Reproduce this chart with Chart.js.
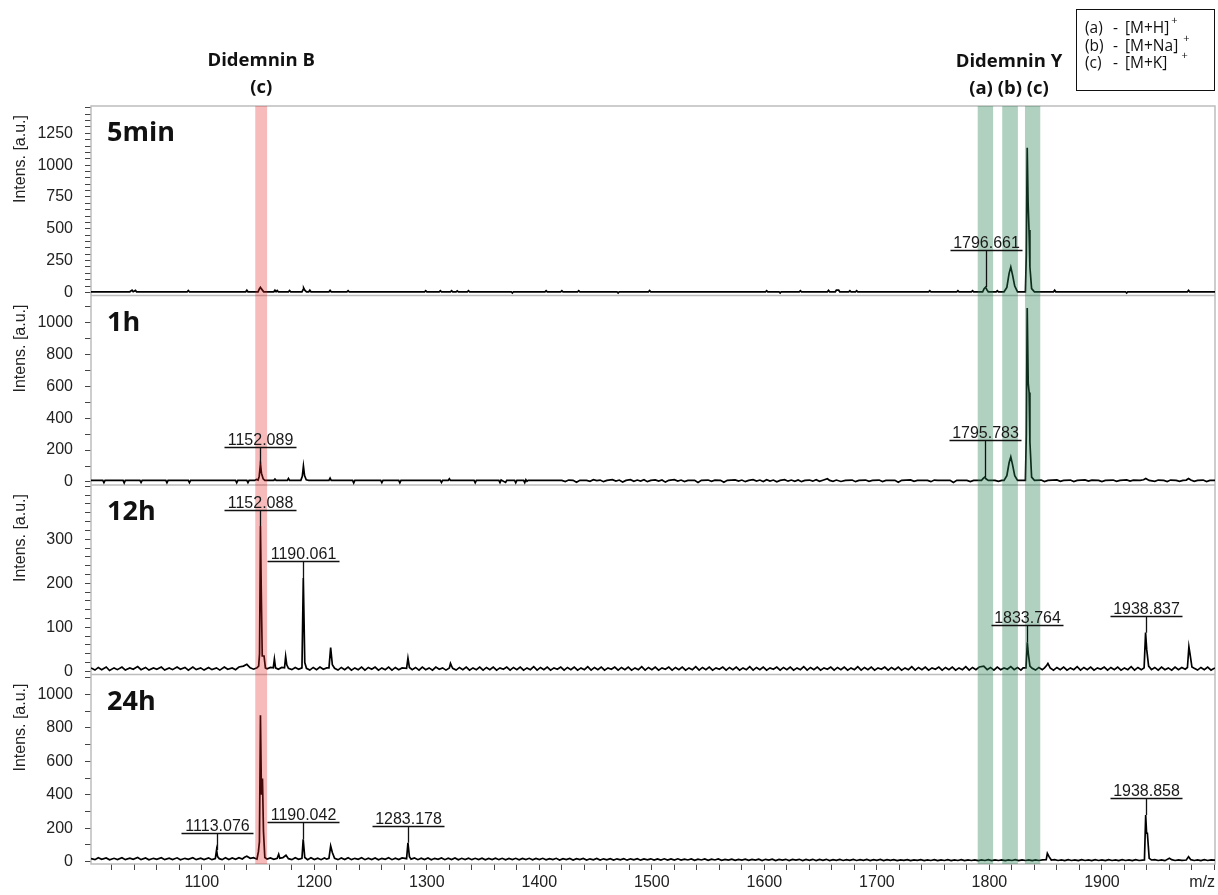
<!DOCTYPE html>
<html>
<head>
<meta charset="utf-8">
<title>Didemnin spectra</title>
<script src="https://cdn.jsdelivr.net/npm/chart.js@4.4.1/dist/chart.umd.min.js"></script>
<style>
  html, body { margin: 0; padding: 0; background: #fff; }
  #wrap { width: 1218px; height: 895px; }
</style>
</head>
<body>
<div id="wrap"><canvas id="spectra" width="1218" height="895"></canvas></div>
<script>
// [m/z, intensity]
const spec5min = [
  [1001.5,5],[1036,5],[1038,18],[1039,6],[1041,16],[1042,5],[1087,5],[1088,15],[1089,5],
  [1139,5],[1140,18],[1141,5],[1150,5],[1151,25],[1152.1,40],[1153,28],[1155,5],
  [1164,5],[1165,18],[1166,6],[1167,15],[1168,5],[1177,5],[1178,15],[1179,5],
  [1189,5],[1190,22],[1190.5,35],[1191.5,18],[1193,5],[1195,5],[1196,18],[1197,5],
  [1213,5],[1214,16],[1215,5],[1229,5],[1230,14],[1231,5],[1298,5],[1299,14],[1300,5],
  [1311,5],[1312,14],[1313,5],[1321,5],[1322,14],[1323,5],[1326,5],[1327,12],[1328,5],
  [1336,5],[1337,14],[1338,5],[1375,5],[1376,-5],[1377,5],[1405,5],[1406,14],[1407,5],
  [1419,5],[1420,14],[1421,5],[1434,5],[1435,14],[1436,5],[1469,5],[1470,-5],[1471,5],
  [1497,5],[1498,15],[1499,5],[1601,5],[1602,14],[1603,5],[1613,5],[1614,-5],[1615,5],
  [1631,5],[1632,14],[1633,5],[1656,5],[1657,16],[1658,5],[1663,5],[1664,18],[1666,18],[1667,5],
  [1675,5],[1676,14],[1677,5],[1681,5],[1682,14],[1683,5],[1746,5],[1747,14],[1748,5],
  [1771,5],[1772,14],[1773,5],[1784,5],[1785,14],[1786,5],
  [1794,5],[1795.3,30],[1796.6,42],[1797.8,20],[1799,5],[1806,5],[1807,14],[1808,5],
  [1813,5],[1815.5,40],[1817.5,150],[1819,200],[1820.5,140],[1822.5,50],[1825,5],
  [1832,5],[1832.8,300],[1833.6,1136],[1834.4,700],[1835.2,490],[1836,200],[1837.5,30],[1840,5],
  [1857,5],[1858,18],[1859,5],[1921,5],[1922,-5],[1923,5],[1976,5],[1977,16],[1978,5],[2000.5,5]
];

const spec1h = [
  [1001.5,10],[1012,10],[1013,-4],[1014,10],[1030,10],[1031,-6],[1032,10],[1045,10],[1046,-3],[1047,10],
  [1068,10],[1069,-5],[1070,10],[1088,10],[1089,-4],[1090,10],[1130,10],[1131,-5],[1132,10],
  [1140,10],[1141,-4],[1142,10],[1147,10],[1148.5,16],[1150,12],[1151,35],[1152.1,115],[1153,55],
  [1154.5,20],[1156,10],[1164,10],[1165,18],[1166,10],[1176,10],[1177,22],[1178,10],
  [1188,10],[1189.3,35],[1190.3,100],[1191.3,40],[1192.8,14],[1195,10],[1213,10],[1214,24],[1215,10],
  [1234,10],[1235,-6],[1236,10],[1259,10],[1260,-4],[1261,10],[1275,10],[1276,-5],[1277,10],
  [1312,10],[1313,-3],[1314,10],[1319,10],[1320,20],[1321,10],[1342,10],[1343,-5],[1344,10],
  [1364,10],[1365,-4],[1366,12],[1370,-3],[1371,10],[1378,10],[1379,-5],[1380,10],
  [1386,10],[1387,-4],[1388,14],[1389,4],[1390,10],
  [1420,10],[1423,3],[1426,12],[1430,10],[1433,-2],[1436,10],[1442,10],[1445,4],[1448,14],[1451,8],
  [1454,12],[1457,2],[1460,10],[1465,14],[1468,6],[1471,12],[1474,0],[1477,10],[1481,14],[1484,4],
  [1487,12],[1490,6],[1493,14],[1496,2],[1499,10],[1503,13],[1506,5],[1509,12],[1512,-1],[1515,10],
  [1520,14],[1523,6],[1526,12],[1529,3],[1532,10],[1538,10],[1541,-3],[1544,10],[1550,12],[1553,4],
  [1556,11],[1561,10],[1564,-2],[1567,10],[1574,13],[1577,5],[1580,12],[1583,2],[1586,10],[1590,14],
  [1593,6],[1596,12],[1599,3],[1602,14],[1605,6],[1608,12],[1611,1],[1614,10],[1618,14],[1621,5],
  [1624,12],[1627,4],[1630,13],[1633,2],[1636,10],[1640,12],[1643,5],[1646,14],[1649,4],[1652,11],
  [1656,20],[1658,10],[1661,4],[1664,12],[1668,3],[1672,10],[1678,12],[1681,2],[1684,10],[1690,12],
  [1693,4],[1696,10],[1702,12],[1705,3],[1708,10],[1716,10],[1719,-2],[1722,10],[1730,13],[1733,4],
  [1736,10],[1745,10],[1748,2],[1751,12],[1754,10],[1765,10],[1768,-3],[1771,10],[1780,10],[1783,3],[1786,10],
  [1793,10],[1794.5,22],[1795.8,30],[1797.2,18],[1799,10],[1805,10],[1808,4],[1811,10],
  [1813,10],[1815.5,40],[1817.5,120],[1819,157],[1820.5,110],[1822.5,40],[1825,10],
  [1832,10],[1832.8,300],[1833.6,1090],[1834.5,620],[1835.3,560],[1836,250],[1837.5,30],[1840,10],
  [1846,12],[1849,3],[1852,10],[1860,13],[1863,4],[1866,10],[1872,12],[1875,3],[1878,10],[1885,13],
  [1888,5],[1891,11],[1897,10],[1900,2],[1903,10],[1910,12],[1913,4],[1916,10],[1922,13],[1925,5],
  [1928,11],[1934,10],[1937,14],[1939,22],[1940.5,16],[1942,10],[1947,4],[1950,12],[1955,10],[1958,3],
  [1961,12],[1966,10],[1969,4],[1972,10],[1975,12],[1977,22],[1979,12],[1982,4],[1985,10],[1990,12],
  [1993,3],[1996,10],[2000.5,10]
];

const spec12h = [
  [1001.5,8],[1005,3],[1008,9],[1011,4],[1015,10],[1018,2],[1022,8],[1025,4],[1029,10],[1032,3],
  [1036,8],[1039,5],[1043,11],[1046,4],[1050,9],[1053,3],[1057,8],[1060,5],[1064,10],[1067,3],
  [1071,8],[1074,4],[1078,10],[1081,5],[1085,9],[1088,3],[1092,10],[1095,4],[1099,8],[1102,3],
  [1106,9],[1109,4],[1113,8],[1116,3],[1120,10],[1123,5],[1127,8],[1130,4],[1133,10],
  [1137,12],[1140,16],[1143,8],[1146,5],[1149,8],[1150.5,12],[1151.3,40],[1152.1,330],[1152.9,170],
  [1153.7,35],[1155.3,35],[1156.5,8],[1158,6],[1161,9],[1163.5,8],[1164.5,28],[1165.5,8],[1168,5],
  [1171,9],[1173.5,8],[1174.5,34],[1175.5,15],[1177,7],[1180,4],[1183,9],[1186,5],[1189,8],
  [1190.2,212],[1191.5,20],[1193,7],[1196,3],[1199,9],[1202,4],[1205,10],[1208,5],[1211,8],[1213,8],[1214.5,54],
  [1216,15],[1218,7],[1221,3],[1224,9],[1227,4],[1230,10],[1233,3],[1236,8],[1239,4],[1242,10],
  [1245,3],[1248,9],[1251,5],[1254,10],[1257,3],[1260,8],[1263,4],[1266,10],[1269,3],[1272,9],
  [1275,4],[1278,8],[1282,7],[1283.2,30],[1284.5,9],[1287,4],[1290,9],[1293,3],[1296,10],[1299,4],
  [1302,8],[1305,3],[1308,10],[1311,5],[1314,8],[1317,3],
  [1320,8],[1321,18],[1322,12],[1323,7],[1326,3],[1329,9],[1332,4],[1335,10],[1338,3],[1341,8],
  [1344,4],[1347,10],[1350,3],[1353,9],[1356,4],[1359,10],[1362,3],[1365,8],[1368,5],[1371,10],
  [1374,3],[1377,9],[1380,4],[1383,10],[1386,3],[1389,8],[1392,4],[1395,11],[1398,3],[1401,9],
  [1404,4],[1407,10],[1410,3],[1413,8],[1416,5],[1419,10],[1422,3],[1425,9],[1428,4],[1431,10],
  [1434,3],[1437,8],[1440,4],[1443,11],[1446,3],[1449,9],[1452,4],[1455,10],[1458,3],[1461,8],
  [1464,5],[1467,10],[1470,3],[1473,9],[1476,4],[1479,10],[1482,3],[1485,8],[1488,4],[1491,11],
  [1494,3],[1497,9],[1500,4],[1503,10],[1506,3],[1509,8],[1512,5],[1515,10],[1518,3],[1521,9],
  [1524,4],[1527,10],[1530,3],[1533,8],[1536,4],[1539,11],[1542,3],[1545,9],[1548,4],[1551,10],
  [1554,3],[1557,8],[1560,5],[1563,10],[1566,3],[1569,9],[1572,4],[1575,10],[1578,3],[1581,8],
  [1584,4],[1587,11],[1590,3],[1593,9],[1596,4],[1599,10],[1602,3],[1605,8],[1608,5],[1611,10],
  [1614,3],[1617,9],[1620,4],[1623,10],[1626,3],[1629,8],[1632,4],[1635,11],[1638,3],[1641,9],
  [1644,4],[1647,10],[1650,3],[1653,8],[1656,5],[1659,10],[1662,3],[1665,9],[1668,4],[1671,10],
  [1674,3],[1677,8],[1680,4],[1683,11],[1686,3],[1689,9],[1692,4],[1695,10],[1698,3],[1701,8],
  [1704,5],[1707,10],[1710,3],[1713,9],[1716,4],[1719,10],[1722,3],[1725,8],[1728,4],[1731,11],
  [1734,3],[1737,9],[1740,4],[1743,10],[1746,3],[1749,8],[1752,5],[1755,10],[1758,3],[1761,9],
  [1764,4],[1767,10],[1770,3],[1773,8],[1776,4],[1779,11],[1782,3],[1785,9],[1788,4],[1791,10],
  [1795,12],[1798,4],[1801,9],[1804,3],[1807,10],[1810,4],[1813,8],[1816,5],[1819,11],[1822,4],
  [1825,9],[1828,3],[1830,8],[1832.5,8],[1833.7,66],[1834.6,40],[1836,12],[1838,7],[1841,3],[1844,9],
  [1847,4],[1849,8],[1851,14],[1852,18],[1854,8],[1857,3],[1860,9],[1863,4],[1866,10],[1869,3],
  [1872,8],[1875,4],[1878,11],[1881,3],[1884,9],[1887,4],[1890,10],[1893,3],[1896,8],[1899,5],
  [1902,10],[1905,3],[1908,9],[1911,4],[1914,10],[1917,3],[1920,8],[1923,4],[1926,11],[1929,3],
  [1932,9],[1935,4],[1937.5,8],[1938.8,88],[1939.8,50],[1941.5,12],[1944,4],[1947,9],[1950,3],
  [1953,10],[1956,4],[1959,8],[1962,3],[1965,10],[1968,4],[1971,9],[1974,5],[1976,9],[1977.3,56],
  [1978.3,40],[1980,10],[1982,7],[1985,3],[1988,9],[1991,4],[1994,10],[1997,3],[2000.5,8]
];

const spec24h = [
  [1001.5,18],[1005,12],[1008,24],[1011,14],[1015,22],[1018,11],[1022,20],[1025,13],[1029,24],[1032,12],
  [1036,21],[1039,14],[1043,25],[1046,12],[1050,22],[1053,11],[1057,20],[1060,14],[1064,24],[1067,12],
  [1071,21],[1074,13],[1078,23],[1081,11],[1085,20],[1088,14],[1092,24],[1095,12],[1099,21],[1102,13],
  [1106,22],[1109,12],[1112,18],[1113.1,70],[1114,30],[1115.5,18],[1118,12],
  [1121,24],[1124,13],[1127,22],[1130,14],[1133,24],[1136,16],[1138,26],[1140,32],[1143,20],[1146,24],
  [1149,15],[1150.3,60],[1151.2,120],[1152.1,876],[1153,400],[1153.9,498],[1154.8,180],[1156,25],
  [1158,15],[1161,22],[1164,14],[1167,20],[1168.3,44],[1169.3,20],[1172,24],[1174.8,38],[1177,18],
  [1180,12],[1183,24],[1186,14],[1189,20],[1190.1,134],[1191.5,25],[1194,12],[1197,23],[1200,13],
  [1203,21],[1206,12],[1209,22],[1211,15],[1213,20],[1214.5,94],[1216,55],[1218,20],[1221,12],
  [1224,22],[1227,13],[1230,24],[1233,12],[1236,20],[1239,14],[1242,23],[1245,12],[1248,21],
  [1251,13],[1254,22],[1257,11],[1260,20],[1263,14],[1266,23],[1269,12],[1272,21],[1275,13],
  [1278,22],[1282,18],[1283.2,113],[1284.5,30],[1286,15],[1289,22],[1292,12],[1295,21],[1298,13],
  [1301,22],[1304,11],[1307,20],[1310,14],[1313,22],[1316,12],[1319,21],[1322,13],[1325,22],
  [1328,11],[1331,20],[1334,13],[1337,21],[1340,12],[1343,20],[1346,13],[1349,21],[1352,11],
  [1355,19],[1358,13],[1361,21],[1364,12],[1367,20],[1370,11],[1373,19],[1376,13],[1379,20],
  [1382,11],[1385,19],[1388,12],[1391,20],[1394,11],[1397,19],[1400,13],[1403,20],[1406,11],
  [1409,18],[1412,12],[1415,20],[1418,10],[1421,18],[1424,12],[1427,19],[1430,10],[1433,18],
  [1436,12],[1439,19],[1442,10],[1445,17],[1448,11],[1451,19],[1454,10],[1457,17],[1460,11],
  [1463,18],[1466,10],[1469,17],[1472,11],[1475,18],[1478,9],[1481,17],[1484,11],[1487,18],
  [1490,9],[1493,16],[1496,11],[1499,17],[1502,9],[1505,16],[1508,10],[1511,17],[1514,9],
  [1517,16],[1520,10],[1523,17],[1526,9],[1529,15],[1532,10],[1535,16],[1538,8],[1541,15],
  [1544,10],[1547,16],[1550,8],[1553,15],[1556,10],[1559,16],[1562,8],[1565,14],[1568,9],
  [1571,15],[1574,8],[1577,14],[1580,9],[1583,15],[1586,8],[1589,14],[1592,9],[1595,15],
  [1598,7],[1601,14],[1604,9],[1607,15],[1610,7],[1613,13],[1616,9],[1619,14],[1622,7],
  [1625,13],[1628,9],[1631,14],[1634,7],[1637,13],[1640,8],[1643,14],[1646,7],[1649,13],
  [1652,8],[1655,14],[1658,7],[1661,12],[1664,8],[1667,13],[1670,7],[1673,12],[1676,8],
  [1679,13],[1682,7],[1685,12],[1688,8],[1691,13],[1694,6],[1697,12],[1700,8],[1703,13],
  [1706,6],[1709,12],[1712,8],[1715,12],[1718,6],[1721,11],[1724,8],[1727,12],[1730,6],
  [1733,11],[1736,8],[1739,12],[1742,6],[1745,11],[1748,7],[1751,12],[1754,6],[1757,11],
  [1760,7],[1763,12],[1766,6],[1769,11],[1772,7],[1775,12],[1778,6],[1781,11],[1784,7],
  [1787,11],[1790,6],[1793,11],[1796,7],[1799,12],[1802,6],[1805,11],[1808,7],[1811,11],
  [1814,6],[1817,11],[1820,7],[1823,12],[1826,6],[1829,11],[1832,7],[1835,11],[1838,6],
  [1841,11],[1844,7],[1847,11],[1850.5,12],[1851.5,50],[1853,30],[1855,10],[1858,12],[1861,7],
  [1864,11],[1867,6],[1870,12],[1873,7],[1876,11],[1879,6],[1882,12],[1885,7],[1888,11],
  [1891,6],[1894,12],[1897,7],[1900,11],[1903,6],[1906,12],[1909,7],[1912,11],[1915,6],
  [1918,12],[1921,7],[1924,11],[1927,6],[1930,12],[1933,7],[1936,9],[1937.8,10],[1938.9,279],
  [1939.7,170],[1940.4,170],[1942,20],[1944,10],[1947,12],[1950,7],[1953,11],[1956,6],[1960,20],
  [1962,12],[1965,7],[1968,11],[1971,8],[1975,10],[1977,30],[1979,12],[1982,7],[1985,11],
  [1988,6],[1991,12],[1994,7],[1997,11],[2000.5,9]
];

const panelNames = ['5min', '1h', '12h', '24h'];
const yMin = [-24, -19, -7, -14];
const yMax = [1465, 1168, 423, 1120];
const yLabelStep = [250, 200, 100, 200];
const yLabelTop = [1250, 1000, 300, 1000];
const yMinorStep = [50, 100, 20, 100];

const xMin = 1001.5;
const xMax = 2000.5;
const xLabelStep = 100;
const xMinorStep = 20;

// peak labels: panel index, text (also its m/z), intensity level of the underline
const peakLabels = [
  { panel: 0, text: '1796.661', level: 330 },
  { panel: 1, text: '1152.089', level: 222 },
  { panel: 1, text: '1795.783', level: 264 },
  { panel: 2, text: '1152.088', level: 366 },
  { panel: 2, text: '1190.061', level: 250 },
  { panel: 2, text: '1833.764', level: 105 },
  { panel: 2, text: '1938.837', level: 125 },
  { panel: 3, text: '1113.076', level: 170 },
  { panel: 3, text: '1190.042', level: 235 },
  { panel: 3, text: '1283.178', level: 215 },
  { panel: 3, text: '1938.858', level: 382 }
];

// highlighted m/z windows
const bandB = [[1147.5, 1158]];
const bandY = [[1789.6, 1803.3], [1811.4, 1825.3], [1831.6, 1845.2]];

const legendRows = [
  ['(a)', '[M+H]', 2],
  ['(b)', '[M+Na]', 5],
  ['(c)', '[M+K]', 14]
];

const spectra = [spec5min, spec1h, spec12h, spec24h];
const tickFont = { family: 'Liberation Sans, Arial, sans-serif', size: 16 };
const headFont = '"Open Sans", sans-serif';

function apexOf(series, mz) {
  let best = -Infinity;
  for (const [m, v] of series) {
    if (Math.abs(m - mz) <= 2.5 && v > best) best = v;
  }
  return best;
}

const scales = {
  x: {
    type: 'linear',
    min: xMin,
    max: xMax,
    ticks: {
      stepSize: xMinorStep,
      autoSkip: false,
      includeBounds: false,
      maxRotation: 0,
      padding: 3,
      font: tickFont,
      color: '#222',
      callback: v => (v % xLabelStep === 0 && v < 2000) ? String(v) : ''
    },
    grid: { drawOnChartArea: false, drawTicks: true, tickLength: 6, color: '#444' },
    border: { display: false },
    afterFit: s => { s.height = 31; }
  }
};
spectra.forEach((_, i) => {
  scales['y' + i] = {
    type: 'linear',
    position: 'left',
    stack: 'spectra',
    stackWeight: 1,
    weight: 4 - i,
    min: yMin[i],
    max: yMax[i],
    ticks: {
      stepSize: yMinorStep[i],
      autoSkip: false,
      includeBounds: false,
      padding: 12,
      font: tickFont,
      color: '#222',
      callback: v => (v % yLabelStep[i] === 0 && v <= yLabelTop[i]) ? String(v) : ''
    },
    grid: { drawOnChartArea: false, drawTicks: true, tickLength: 6, color: '#444' },
    border: { display: false },
    afterFit: s => { s.width = 91; }
  };
});

const frame = {
  id: 'frame',
  beforeDatasetsDraw(chart) {
    const { ctx, chartArea: a } = chart;
    ctx.save();
    ctx.strokeStyle = '#bdbdbd';
    ctx.lineWidth = 1.5;
    ctx.strokeRect(a.left, a.top, a.right - a.left, a.bottom - a.top);
    for (let i = 1; i < spectra.length; i++) {
      const y = chart.scales['y' + i].top;
      ctx.beginPath();
      ctx.moveTo(a.left, y);
      ctx.lineTo(a.right, y);
      ctx.stroke();
    }
    ctx.restore();
  },
  afterDatasetsDraw(chart) {
    const { ctx, chartArea: a } = chart;
    const x = chart.scales.x;
    ctx.save();

    // highlight bands over the traces
    const band = (list, color) => {
      ctx.fillStyle = color;
      list.forEach(([lo, hi]) => {
        const l = x.getPixelForValue(lo);
        ctx.fillRect(l, a.top, x.getPixelForValue(hi) - l, a.bottom - a.top);
      });
    };
    band(bandB, 'rgba(228, 30, 30, 0.3)');
    band(bandY, 'rgba(35, 125, 80, 0.36)');

    // peak labels
    ctx.font = '16px "Liberation Sans", Arial, sans-serif';
    ctx.fillStyle = '#1a1a1a';
    ctx.strokeStyle = '#111';
    ctx.lineWidth = 1.3;
    ctx.textAlign = 'center';
    ctx.textBaseline = 'alphabetic';
    peakLabels.forEach(lb => {
      const ys = chart.scales['y' + lb.panel];
      const mz = parseFloat(lb.text);
      const px = Math.round(x.getPixelForValue(mz)) + 0.5;
      const ly = Math.round(ys.getPixelForValue(lb.level)) + 0.5;
      const apex = apexOf(spectra[lb.panel], mz);
      ctx.beginPath();
      ctx.moveTo(px - 36, ly);
      ctx.lineTo(px + 36, ly);
      ctx.moveTo(px, ly);
      ctx.lineTo(px, ys.getPixelForValue(apex));
      ctx.stroke();
      ctx.fillText(lb.text, px, ly - 3);
    });

    // panel names and y titles
    spectra.forEach((_, i) => {
      const ys = chart.scales['y' + i];
      ctx.fillStyle = '#111';
      ctx.textAlign = 'left';
      ctx.font = 'bold 27px ' + headFont;
      ctx.fillText(panelNames[i], a.left + 16, ys.top + 35);
      ctx.save();
      ctx.translate(21, ys.top + 9);
      ctx.rotate(-Math.PI / 2);
      ctx.textAlign = 'right';
      ctx.textBaseline = 'middle';
      ctx.font = '16px "Liberation Sans", Arial, sans-serif';
      ctx.fillStyle = '#222';
      ctx.fillText('Intens. [a.u.]', 0, 0);
      ctx.restore();
    });

    // compound headers above the bands
    ctx.fillStyle = '#111';
    ctx.textAlign = 'center';
    ctx.font = 'bold 18.5px ' + headFont;
    const bx = x.getPixelForValue((bandB[0][0] + bandB[0][1]) / 2);
    ctx.fillText('Didemnin B', bx, 66);
    ctx.fillText('(c)', bx, 93);
    const yx = x.getPixelForValue((bandY[0][0] + bandY[2][1]) / 2);
    ctx.fillText('Didemnin Y', yx, 67);
    ctx.fillText('(a) (b) (c)', yx, 94);

    // adduct legend box
    ctx.strokeStyle = '#111';
    ctx.lineWidth = 1;
    ctx.strokeRect(1076.5, 9.5, 138, 81);
    ctx.textAlign = 'left';
    legendRows.forEach(([tag, ion, gap], r) => {
      const by = 33 + r * 17.5;
      ctx.font = '15.5px ' + headFont;
      ctx.fillText(tag, 1085, by);
      ctx.fillText('-', 1113, by);
      ctx.fillText(ion, 1125, by);
      const w = ctx.measureText(ion).width;
      ctx.font = '11px ' + headFont;
      ctx.fillText('+', 1125 + w + gap, by - 9);
    });

    // axis unit
    ctx.font = '16px "Liberation Sans", Arial, sans-serif';
    ctx.fillStyle = '#222';
    ctx.textAlign = 'right';
    ctx.textBaseline = 'middle';
    ctx.fillText('m/z', a.right, 883);

    ctx.restore();
  }
};

new Chart(document.getElementById('spectra'), {
  type: 'line',
  data: {
    datasets: spectra.map((s, i) => ({
      label: panelNames[i],
      data: s.map(([m, v]) => ({ x: m, y: v })),
      yAxisID: 'y' + i,
      borderColor: '#000',
      borderWidth: 1.7,
      pointRadius: 0,
      tension: 0,
      fill: false
    }))
  },
  options: {
    responsive: false,
    devicePixelRatio: 1,
    animation: false,
    events: [],
    layout: { padding: { top: 106, right: 3, left: 0, bottom: 0 } },
    plugins: { legend: { display: false }, tooltip: { enabled: false } },
    scales: scales
  },
  plugins: [frame]
});
</script>
</body>
</html>
